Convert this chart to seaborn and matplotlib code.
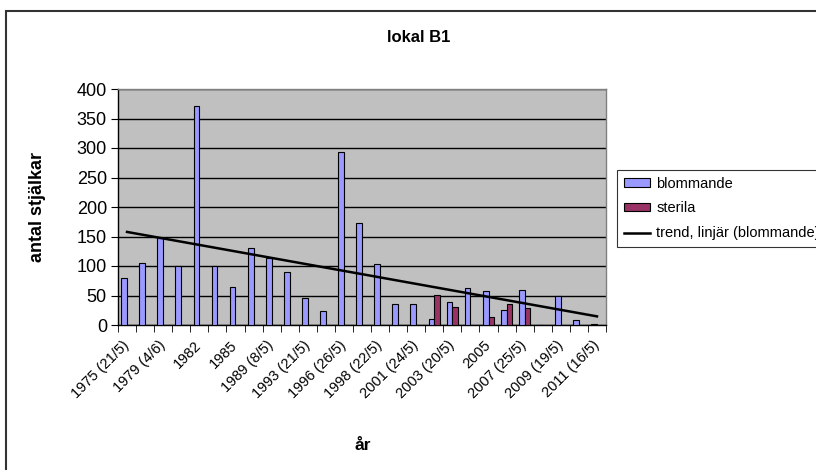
import numpy as np
import pandas as pd
import matplotlib
matplotlib.use("Agg")
import matplotlib.pyplot as plt
import seaborn as sns
from matplotlib.patches import Patch, Rectangle
from matplotlib.lines import Line2D

plt.rcParams['font.family'] = ['Liberation Sans', 'DejaVu Sans']

# categories (only every other label is shown in the chart)
years = ["1975 (21/5)", "1977", "1979 (4/6)", "1981", "1982", "1984", "1985", "1987",
         "1989 (8/5)", "1991", "1993 (21/5)", "1995", "1996 (26/5)", "1997", "1998 (22/5)",
         "2000", "2001 (24/5)", "2002", "2003 (20/5)", "2004", "2005", "2006",
         "2007 (25/5)", "2008", "2009 (19/5)", "2010", "2011 (16/5)"]
blommande = [80, 105, 148, 100, 371, 100, 65, 131, 114, 90, 45, 24, 293, 173, 104,
             35, 35, 11, 39, 62, 57, 26, 60, 0, 49, 8, 2]
nan = np.nan
sterila = [nan] * 17 + [51, 30, nan, 13, 35, 28] + [nan] * 4
series_names = ["blommande", "sterila"]
trend_name = "trend, linjär (blommande)"
colors = ["#9999FF", "#993366"]

df = pd.DataFrame({
    "år": years * 2,
    "serie": [series_names[0]] * len(years) + [series_names[1]] * len(years),
    "antal": blommande + sterila,
})

fig = plt.figure(figsize=(8.16, 4.7), dpi=100)
ax = fig.add_axes([118 / 816, 1 - 325 / 470, 488 / 816, 236 / 470])
ax.set_facecolor("#C0C0C0")

sns.barplot(data=df, x="år", y="antal", hue="serie", order=years,
            hue_order=series_names, palette=colors, saturation=1,
            width=0.64, edgecolor="black", linewidth=0.8, errorbar=None,
            legend=False, ax=ax, zorder=3)

sns.regplot(x=np.arange(len(years)), y=np.array(blommande, dtype=float),
            scatter=False, ci=None, truncate=True, color="black",
            line_kws={"lw": 1.8, "zorder": 4}, ax=ax)

ax.set_xlim(-0.5, len(years) - 0.5)
ax.set_ylim(0, 400)
ax.set_yticks(np.arange(0, 401, 50))
ax.yaxis.grid(True, color="black", lw=1.0, zorder=1)
ax.set_axisbelow(True)
ax.tick_params(axis="y", which="major", length=5, direction="out",
               labelsize=13, pad=3, color="black")

shown = list(range(0, len(years), 2))
ax.set_xticks(shown)
ax.set_xticklabels([years[i] for i in shown], rotation=45, ha="right",
                   va="center", rotation_mode="anchor", fontsize=10.5)
ax.set_xticks(np.arange(-0.5, len(years), 1), minor=True)
ax.tick_params(axis="x", which="major", length=0, pad=13)
ax.tick_params(axis="x", which="minor", length=5, direction="out", color="black")

for s in ["top", "right"]:
    ax.spines[s].set_color("#808080")
    ax.spines[s].set_linewidth(1.0)
for s in ["left", "bottom"]:
    ax.spines[s].set_color("black")
    ax.spines[s].set_linewidth(1.0)

ax.set_xlabel("år", fontsize=12.5, fontweight="bold")
ax.xaxis.set_label_coords((363 - 118) / 488, -0.48)
ax.set_ylabel("antal stjälkar", fontsize=13, fontweight="bold")
ax.yaxis.set_label_coords(-0.148, 0.5)

fig.text(419 / 816, 1 - 38 / 470, "lokal B1", fontsize=12, fontweight="bold",
         ha="center", va="center")

handles = [Patch(facecolor=colors[0], edgecolor="black", lw=0.8),
           Patch(facecolor=colors[1], edgecolor="black", lw=0.8),
           Line2D([0], [0], color="black", lw=1.8)]
leg = fig.legend(handles, series_names + [trend_name], loc="upper left",
                 bbox_to_anchor=(617 / 816, 1 - 170 / 470),
                 bbox_transform=fig.transFigure, frameon=True, fancybox=False,
                 edgecolor="black", borderaxespad=0, fontsize=10.5,
                 handlelength=1.8, handleheight=0.5, labelspacing=0.75,
                 handletextpad=0.45, borderpad=0.45)
leg.get_frame().set_linewidth(0.8)

fig.patches.append(Rectangle((6 / 816, -0.1), 1.2, 1 - 11 / 470 + 0.1,
                             transform=fig.transFigure, fill=False,
                             edgecolor="#333333", lw=1.5))

fig.savefig("out.png", dpi=100)
